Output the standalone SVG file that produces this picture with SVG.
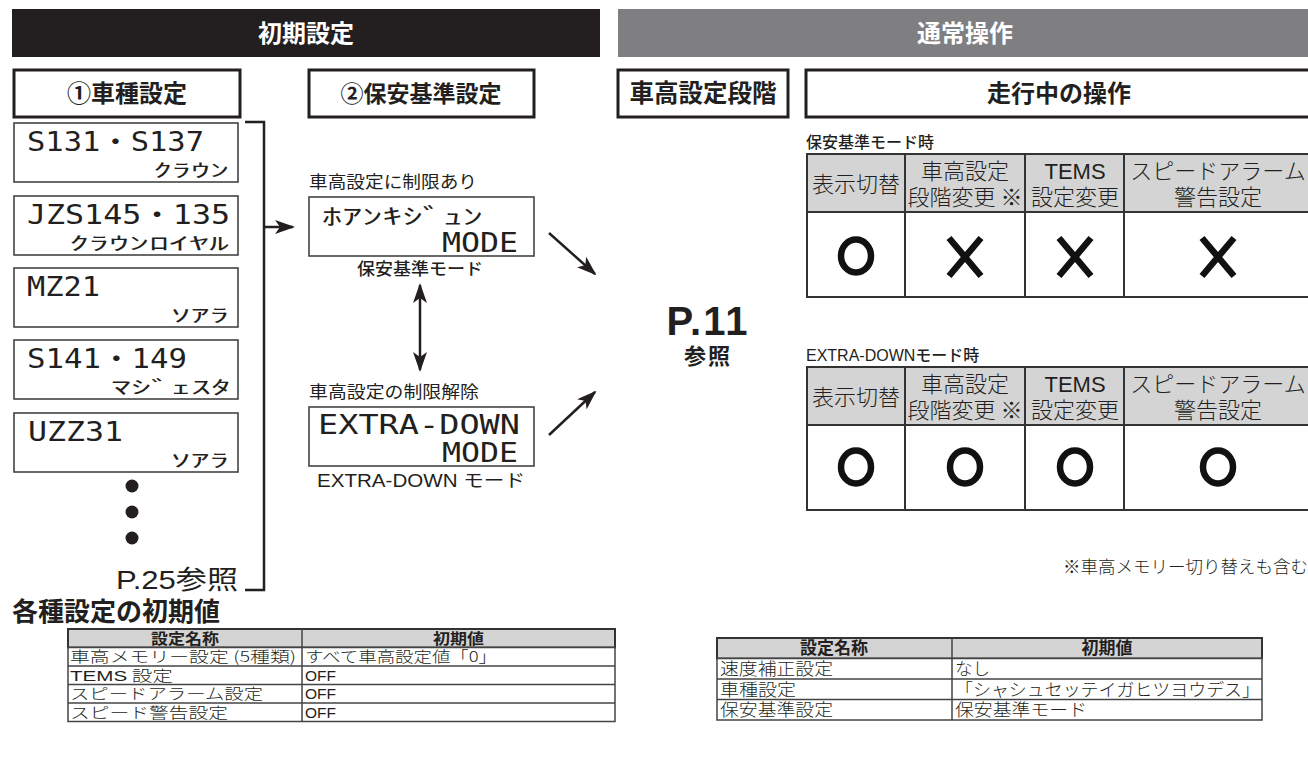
<svg xmlns="http://www.w3.org/2000/svg" width="1308" height="764" viewBox="0 0 1308 764">
<style>
text{font-family:"Noto Sans CJK JP","Noto Sans",sans-serif;fill:#231f20}
.b{font-weight:700}
.wh{fill:#fff}
.box{fill:#fff;stroke:#231f20;stroke-width:3}
.lcd{fill:#fff;stroke:#444;stroke-width:1.6}
.l1{font-family:"DejaVu Sans Mono","Noto Sans CJK JP",monospace;font-size:26px}
.l2{font-size:18px}
.tb{fill:#fff;stroke:#333;stroke-width:2}
.th{fill:#d4d4d4;stroke:#333;stroke-width:2}
.tl{stroke:#333;stroke-width:2}
.ok{fill:none;stroke:#111;stroke-width:6.5}
.ng{stroke:#111;stroke-width:6.5}
.c{text-anchor:middle}
.e{text-anchor:end}
.lt{font-weight:300}
.cn{stroke:#231f20;stroke-width:2.5;fill:none}
.sm{stroke:#444;stroke-width:1.5}
.lat{font-family:"Liberation Sans",sans-serif}
</style>
<defs>
<marker id="ah" viewBox="0 0 20 14" refX="18" refY="7" markerWidth="20" markerHeight="14" markerUnits="userSpaceOnUse" orient="auto-start-reverse">
<path d="M0,0 L20,7 L0,14 L5,7 Z" fill="#231f20"/>
</marker>
<g id="ok"><ellipse rx="15" ry="16.5" class="ok"/></g>
<g id="ng"><path d="M-16,-19 L16,19 M16,-19 L-16,19" class="ng"/></g>
</defs>

<g id="header-initial">
<rect x="12" y="9" width="588" height="48" fill="#231f20"/>
<text x="306" y="42" class="b wh c" font-size="24">初期設定</text>
</g>
<g id="header-normal">
<rect x="618" y="9" width="690" height="48" fill="#7f7f82"/>
<text x="965" y="42" class="b wh c" font-size="24">通常操作</text>
</g>

<g id="step1">
<rect x="14" y="70" width="226" height="47" class="box"/>
<text x="127" y="102" class="b c" font-size="24">①車種設定</text>
</g>
<g id="step2">
<rect x="309" y="70" width="225" height="47" class="box"/>
<text x="421" y="102" class="b c" font-size="23">②保安基準設定</text>
</g>
<g id="stage">
<rect x="618" y="70" width="170" height="47" class="box"/>
<text x="703" y="102" class="b c" font-size="24.5">車高設定段階</text>
</g>
<g id="driving">
<rect x="806" y="70" width="506" height="47" class="box"/>
<text x="1059" y="102" class="b c" font-size="24">走行中の操作</text>
</g>

<g id="lcd1">
<rect x="14" y="123" width="224" height="59" class="lcd"/>
<text x="27" y="151" class="l1" textLength="177" lengthAdjust="spacingAndGlyphs">S131・S137</text>
<text x="229" y="177" class="l2 e" textLength="76" lengthAdjust="spacingAndGlyphs">ｸﾗｳﾝ</text>
</g>
<g id="lcd2">
<rect x="14" y="196" width="224" height="59" class="lcd"/>
<text x="27" y="224" class="l1" textLength="203" lengthAdjust="spacingAndGlyphs">JZS145・135</text>
<text x="229" y="250" class="l2 e" textLength="160" lengthAdjust="spacingAndGlyphs">ｸﾗｳﾝﾛｲﾔﾙ</text>
</g>
<g id="lcd3">
<rect x="14" y="268" width="224" height="59" class="lcd"/>
<text x="27" y="296" class="l1" textLength="73" lengthAdjust="spacingAndGlyphs">MZ21</text>
<text x="229" y="322" class="l2 e" textLength="58" lengthAdjust="spacingAndGlyphs">ｿｱﾗ</text>
</g>
<g id="lcd4">
<rect x="14" y="340" width="224" height="59" class="lcd"/>
<text x="27" y="368" class="l1" textLength="160" lengthAdjust="spacingAndGlyphs">S141・149</text>
<text x="231" y="394" class="l2 e" textLength="120" lengthAdjust="spacingAndGlyphs">ﾏｼﾞｪｽﾀ</text>
</g>
<g id="lcd5">
<rect x="14" y="413" width="224" height="59" class="lcd"/>
<text x="28" y="441" class="l1" textLength="95" lengthAdjust="spacingAndGlyphs">UZZ31</text>
<text x="229" y="467" class="l2 e" textLength="58" lengthAdjust="spacingAndGlyphs">ｿｱﾗ</text>
</g>
<g id="more">
<circle cx="132" cy="486" r="6.5" fill="#231f20"/>
<circle cx="132" cy="512" r="6.5" fill="#231f20"/>
<circle cx="132" cy="538" r="6.5" fill="#231f20"/>
<text x="116" y="589" font-size="26" textLength="122" lengthAdjust="spacingAndGlyphs"><tspan class="lat">P.25</tspan>参照</text>
</g>

<g id="mode-std">
<text x="309" y="188" font-size="16.5" fill="#444" textLength="168" lengthAdjust="spacingAndGlyphs">車高設定に制限あり</text>
<rect x="309" y="197" width="225" height="59" class="lcd"/>
<text x="322" y="224" font-size="22" textLength="161" lengthAdjust="spacingAndGlyphs">ﾎｱﾝｷｼﾞｭﾝ</text>
<text x="518" y="252" class="l1 e" textLength="76" lengthAdjust="spacingAndGlyphs">MODE</text>
<text x="357" y="275" font-size="16.5" font-weight="500" textLength="126" lengthAdjust="spacingAndGlyphs">保安基準モード</text>
</g>
<g id="mode-extra">
<text x="309" y="398" font-size="16.5" fill="#444" textLength="170" lengthAdjust="spacingAndGlyphs">車高設定の制限解除</text>
<rect x="309" y="407" width="225" height="59" class="lcd"/>
<text x="318" y="434" class="l1" textLength="202" lengthAdjust="spacingAndGlyphs">EXTRA-DOWN</text>
<text x="518" y="462" class="l1 e" textLength="76" lengthAdjust="spacingAndGlyphs">MODE</text>
<text x="317" y="487" font-size="18" textLength="208" lengthAdjust="spacingAndGlyphs"><tspan class="lat">EXTRA-DOWN </tspan>モード</text>
</g>

<g id="ref-p11">
<text x="708" y="335" class="c lat" font-size="40" font-weight="700" letter-spacing="2">P.11<tspan x="708" y="364" font-size="22" style="font-family:'Noto Sans CJK JP',sans-serif">参照</tspan></text>
</g>

<g id="table-std">
<text x="806" y="148" font-size="16" font-weight="500">保安基準モード時</text>
<rect x="807" y="154" width="505" height="58" class="th"/>
<rect x="807" y="212" width="505" height="85" class="tb"/>
<path d="M905,154V297M1025,154V297M1124,154V297" class="tl"/>
<text x="856" y="192" class="c lt" font-size="22">表示切替</text>
<text x="965" y="179" class="c lt" font-size="22">車高設定<tspan x="965" y="205">段階変更 ※</tspan></text>
<text x="1075" y="179" class="c lt" font-size="22"><tspan class="lat">TEMS</tspan><tspan x="1075" y="205">設定変更</tspan></text>
<text x="1218" y="179" class="c lt" font-size="22">スピードアラーム<tspan x="1218" y="205">警告設定</tspan></text>
<use href="#ok" x="856" y="256"/>
<use href="#ng" x="965" y="257"/>
<use href="#ng" x="1075" y="257"/>
<use href="#ng" x="1218" y="257"/>
</g>

<g id="table-extra">
<text x="806" y="361" font-size="16" font-weight="500"><tspan class="lat">EXTRA-DOWN</tspan>モード時</text>
<rect x="807" y="367" width="505" height="58" class="th"/>
<rect x="807" y="425" width="505" height="85" class="tb"/>
<path d="M905,367V510M1025,367V510M1124,367V510" class="tl"/>
<text x="856" y="405" class="c lt" font-size="22">表示切替</text>
<text x="965" y="392" class="c lt" font-size="22">車高設定<tspan x="965" y="418">段階変更 ※</tspan></text>
<text x="1075" y="392" class="c lt" font-size="22"><tspan class="lat">TEMS</tspan><tspan x="1075" y="418">設定変更</tspan></text>
<text x="1218" y="392" class="c lt" font-size="22">スピードアラーム<tspan x="1218" y="418">警告設定</tspan></text>
<use href="#ok" x="856" y="467"/>
<use href="#ok" x="965" y="467"/>
<use href="#ok" x="1075" y="467"/>
<use href="#ok" x="1218" y="467"/>
<text x="1308" y="573" class="e lt" font-size="17.5">※車高メモリー切り替えも含む</text>
</g>

<g id="defaults-title">
<text x="12" y="621" class="b" font-size="26">各種設定の初期値</text>
</g>
<g id="defaults-left">
<rect x="68" y="629" width="547" height="18.5" class="th" stroke-width="1.6"/>
<rect x="68" y="647.5" width="547" height="74" fill="#fff" class="sm"/>
<path d="M68,666H615M68,684.5H615M68,703H615M302,629V721.5" class="sm"/>
<text x="151" y="643.5" class="b" font-size="15" textLength="68" lengthAdjust="spacingAndGlyphs">設定名称</text>
<text x="433" y="643.5" class="b" font-size="15" textLength="51" lengthAdjust="spacingAndGlyphs">初期値</text>
<text x="70" y="662" class="lt" font-size="15" textLength="226" lengthAdjust="spacingAndGlyphs">車高メモリー設定 (5種類)</text>
<text x="305" y="662" class="lt" font-size="15" textLength="192" lengthAdjust="spacingAndGlyphs">すべて車高設定値「0」</text>
<text x="70" y="680.5" class="lt" font-size="15" textLength="103" lengthAdjust="spacingAndGlyphs"><tspan class="lat">TEMS</tspan> 設定</text>
<text x="305" y="680.5" class="lt lat" font-size="15" textLength="31" lengthAdjust="spacingAndGlyphs">OFF</text>
<text x="70" y="699" class="lt" font-size="15" textLength="193" lengthAdjust="spacingAndGlyphs">スピードアラーム設定</text>
<text x="305" y="699" class="lt lat" font-size="15" textLength="31" lengthAdjust="spacingAndGlyphs">OFF</text>
<text x="70" y="717.5" class="lt" font-size="15" textLength="158" lengthAdjust="spacingAndGlyphs">スピード警告設定</text>
<text x="305" y="717.5" class="lt lat" font-size="15" textLength="31" lengthAdjust="spacingAndGlyphs">OFF</text>
</g>
<g id="defaults-right">
<rect x="717" y="638" width="545" height="20.5" class="th" stroke-width="1.6"/>
<rect x="717" y="658.5" width="545" height="61.5" fill="#fff" class="sm"/>
<path d="M717,679H1262M717,699.5H1262M952,638V720" class="sm"/>
<text x="834" y="654" class="b c" font-size="17">設定名称</text>
<text x="1107" y="654" class="b c" font-size="17">初期値</text>
<text x="720" y="675" class="lt" font-size="17.5" textLength="113" lengthAdjust="spacingAndGlyphs">速度補正設定</text>
<text x="955" y="675" class="lt" font-size="17.5">なし</text>
<text x="720" y="695.5" class="lt" font-size="17.5" textLength="76" lengthAdjust="spacingAndGlyphs">車種設定</text>
<text x="955" y="695.5" class="lt" font-size="17.5" textLength="305" lengthAdjust="spacingAndGlyphs">「シャシュセッテイガヒツヨウデス」</text>
<text x="720" y="716" class="lt" font-size="17.5" textLength="113" lengthAdjust="spacingAndGlyphs">保安基準設定</text>
<text x="955" y="716" class="lt" font-size="17.5" textLength="132" lengthAdjust="spacingAndGlyphs">保安基準モード</text>
</g>

<g id="connectors">
<path d="M245,122H264V590H245" class="cn" stroke-width="3"/>
<path d="M264,227H293" class="cn" marker-end="url(#ah)"/>
<path d="M420,285V370" class="cn" marker-start="url(#ah)" marker-end="url(#ah)"/>
<path d="M549,233L595,274" class="cn" marker-end="url(#ah)"/>
<path d="M549,435L595,392" class="cn" marker-end="url(#ah)"/>
</g>
</svg>
